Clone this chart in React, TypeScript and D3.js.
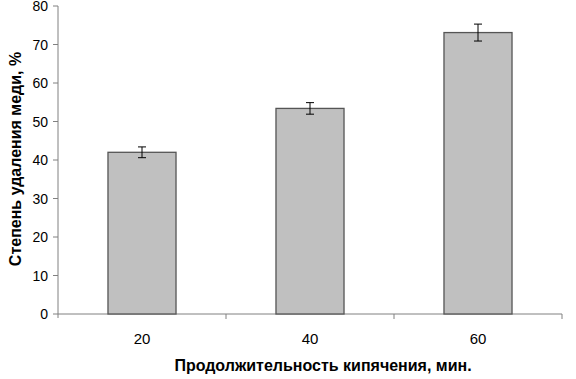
import React from 'react';
import * as d3 from 'd3';

const categories = ['20', '40', '60'];
const values = [42, 53.4, 73.1];
const errors = [1.4, 1.5, 2.2];
const yTicks = [0, 10, 20, 30, 40, 50, 60, 70, 80];

const App = () => {
  const width = 576;
  const height = 379;
  const left = 58;
  const right = 562;
  const top = 6;
  const bottom = 314;
  const font = '"Liberation Sans", Arial, sans-serif';

  const x = d3.scaleBand().domain(categories).range([left, right]).padding(0);
  const y = d3.scaleLinear().domain([0, 80]).range([bottom, top]);
  const barW = x.bandwidth() * 0.405;
  const axisColor = '#808080';

  return (
    <svg width={width} height={height} style={{ position: 'absolute', left: 0, top: 0 }}>
      <rect width={width} height={height} fill="#fff" />
      {/* y axis */}
      <line x1={left} x2={left} y1={top} y2={bottom + 4} stroke={axisColor} />
      {yTicks.map(t => (
        <g key={t}>
          <line x1={left - 5} x2={left} y1={y(t)} y2={y(t)} stroke={axisColor} />
          <text x={left - 10} y={y(t) + 5} textAnchor="end" fontSize="14" fontFamily={font} fill="#000">
            {t}
          </text>
        </g>
      ))}
      {/* x axis */}
      <line x1={left} x2={right} y1={bottom} y2={bottom} stroke={axisColor} />
      {categories.map(c => (
        <line key={c} x1={x(c)! + x.bandwidth()} x2={x(c)! + x.bandwidth()} y1={bottom} y2={bottom + 5} stroke={axisColor} />
      ))}
      {categories.map((c, i) => {
        const cx = x(c)! + x.bandwidth() / 2;
        return (
          <g key={c}>
            <rect
              x={cx - barW / 2}
              y={y(values[i])}
              width={barW}
              height={bottom - y(values[i])}
              fill="#c0c0c0"
              stroke="#555"
              strokeWidth={1.3}
            />
            <line x1={cx} x2={cx} y1={y(values[i] + errors[i])} y2={y(values[i] - errors[i])} stroke="#000" />
            <line x1={cx - 4} x2={cx + 4} y1={y(values[i] + errors[i])} y2={y(values[i] + errors[i])} stroke="#000" />
            <line x1={cx - 4} x2={cx + 4} y1={y(values[i] - errors[i])} y2={y(values[i] - errors[i])} stroke="#000" />
            <text x={cx} y={344} textAnchor="middle" fontSize="15" fontFamily={font} fill="#000">
              {c}
            </text>
          </g>
        );
      })}
      <text x={323} y={371} textAnchor="middle" fontSize="16" fontWeight="bold" fontFamily={font} fill="#000">
        Продолжительность кипячения, мин.
      </text>
      <text
        transform={`translate(21, 159) rotate(-90)`}
        textAnchor="middle"
        fontSize="16"
        fontWeight="bold"
        fontFamily={font}
        fill="#000"
      >
        Степень удаления меди, %
      </text>
    </svg>
  );
};

export default App;
